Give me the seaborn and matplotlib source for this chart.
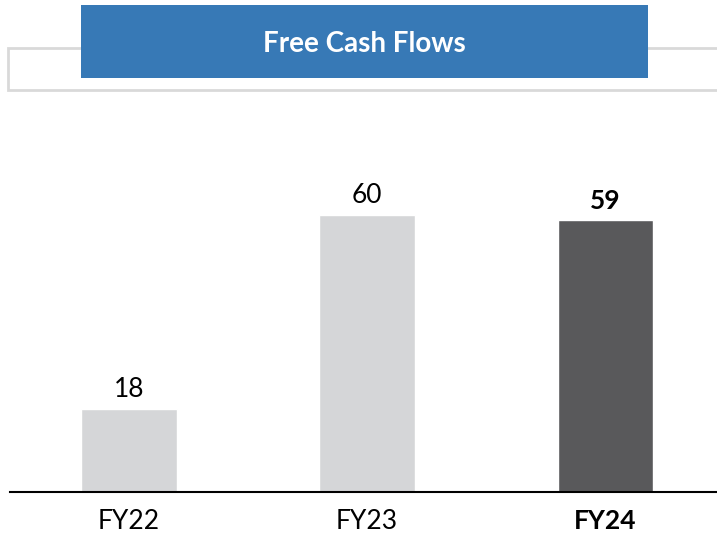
import pandas as pd
import matplotlib
matplotlib.use("Agg")
import matplotlib.pyplot as plt
from matplotlib.patches import Rectangle
import seaborn as sns

# chart data
years = ["FY22", "FY23", "FY24"]
fcf = [18, 60, 59]
bar_colors = ["#D5D6D8", "#D5D6D8", "#59595B"]

sns.set_theme(style="white")
plt.rcParams['font.family'] = ['Lato', 'DejaVu Sans']

df = pd.DataFrame({"year": years, "fcf": fcf})

fig = plt.figure(figsize=(7.17, 5.36), dpi=100)

# header: grey outlined strip with blue title box on top
fig.patches.append(Rectangle((8 / 717, 1 - 90 / 536), 712 / 717, 42 / 536,
                             transform=fig.transFigure, facecolor="white",
                             edgecolor="#D9D9D9", linewidth=2, zorder=1))
fig.patches.append(Rectangle((81 / 717, 1 - 78 / 536), 567 / 717, 73 / 536,
                             transform=fig.transFigure, facecolor="#3779B6",
                             edgecolor="none", zorder=2))
fig.text(364.5 / 717, 1 - 44 / 536, "Free Cash Flows", color="white",
         fontsize=20, fontweight="bold", ha="center", va="center", zorder=3)

ax = fig.add_axes([10 / 717, 44 / 536, 707 / 717, 415 / 536])
sns.barplot(data=df, x="year", y="fcf", hue="year", palette=bar_colors,
            width=0.4, saturation=1, legend=False, ax=ax)

ax.set_xlim(-0.5, 2.47)
ax.set_ylim(0, 90)
ax.set_xlabel("")
ax.set_ylabel("")
ax.set_yticks([])
for s in ["top", "right", "left"]:
    ax.spines[s].set_visible(False)
ax.spines["bottom"].set_color("black")
ax.spines["bottom"].set_linewidth(1.5)
ax.tick_params(axis="x", length=0, pad=12, labelsize=19, colors="black")
for lbl in ax.get_xticklabels():
    if lbl.get_text() == "FY24":
        lbl.set_fontweight("bold")

for i, cont in enumerate(ax.containers):
    texts = ax.bar_label(cont, fmt="%d", padding=5, fontsize=19, color="black")
    if years[i] == "FY24":
        for t in texts:
            t.set_fontweight("bold")

fig.savefig("out.png", dpi=100)
